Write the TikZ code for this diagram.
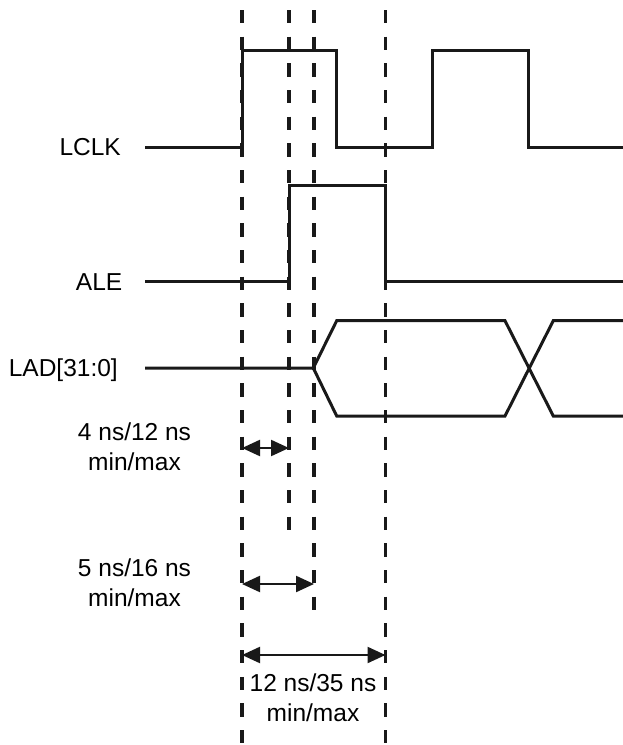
\documentclass[tikz,border=0pt]{standalone}
\usepackage{fontspec}
\setmainfont{Liberation Sans}
\usepackage{tikz}
\usetikzlibrary{arrows.meta,positioning,calc}

\begin{document}
\begin{tikzpicture}[x=1pt,y=-1pt,
  font=\fontsize{24.5}{30}\selectfont,
  sig/.style={line width=3pt,color=black!90,line join=miter},
  mark line/.style={line width=3.4pt,color=black!90,dash pattern=on 13.4pt off 13.27pt},
  dim/.style={line width=2.2pt,color=black!90,{Triangle[length=18pt,width=16pt]}-{Triangle[length=18pt,width=16pt]}},
  lab/.style={anchor=base east,inner sep=0pt},
  tlab/.style={anchor=base,align=center,inner sep=0pt}]
\useasboundingbox (0,0) rectangle (623,745);
% dashed timing marks
\draw[mark line] (242,10) -- (242,745);
\draw[mark line] (289,10) -- (289,531);
\draw[mark line] (314,10) -- (314,610);
\draw[mark line] (385.5,10) -- (385.5,745);
% signal names
\node[lab] (lclk) at (121,155.5) {LCLK};
\node[lab] (ale) at (122.5,290) {ALE};
\node[lab] (lad) at (118,376.5) {LAD[31:0]};
% waveforms
\draw[sig] (145,147) -- (242,147) -- (242,50.7) -- (336.7,50.7) -- (336.7,147) -- (432.7,147)
  -- (432.7,50.7) -- (528.3,50.7) -- (528.3,147) -- (623,147);
\draw[sig] (145,281.5) -- (289,281.5) -- (289,185.7) -- (385.5,185.7) -- (385.5,281.5) -- (623,281.5);
\draw[sig] (145,368) -- (313.3,368) -- (336.7,320.7) -- (505,320.7) -- (553.3,416) -- (623,416);
\draw[sig] (313.3,368) -- (336.7,416) -- (505,416) -- (553.3,320.7) -- (623,320.7);
% timing arrows
\coordinate (a1) at (242,448);
\coordinate (b1) at (289,448);
\coordinate (a2) at (242,584);
\coordinate (b2) at (314,584);
\coordinate (a3) at (242,655);
\coordinate (b3) at (385.5,655);
\draw[dim] (a1) -- (b1);
\draw[dim] (a2) -- (b2);
\draw[dim] (a3) -- (b3);
\node[tlab] (t1) at (134.5,470.7) {4 ns/12 ns\\min/max};
\node[tlab] (t2) at (134.5,606.7) {5 ns/16 ns\\min/max};
\node[tlab] (t3) at (313,721.7) {12 ns/35 ns\\min/max};
\end{tikzpicture}
\end{document}
